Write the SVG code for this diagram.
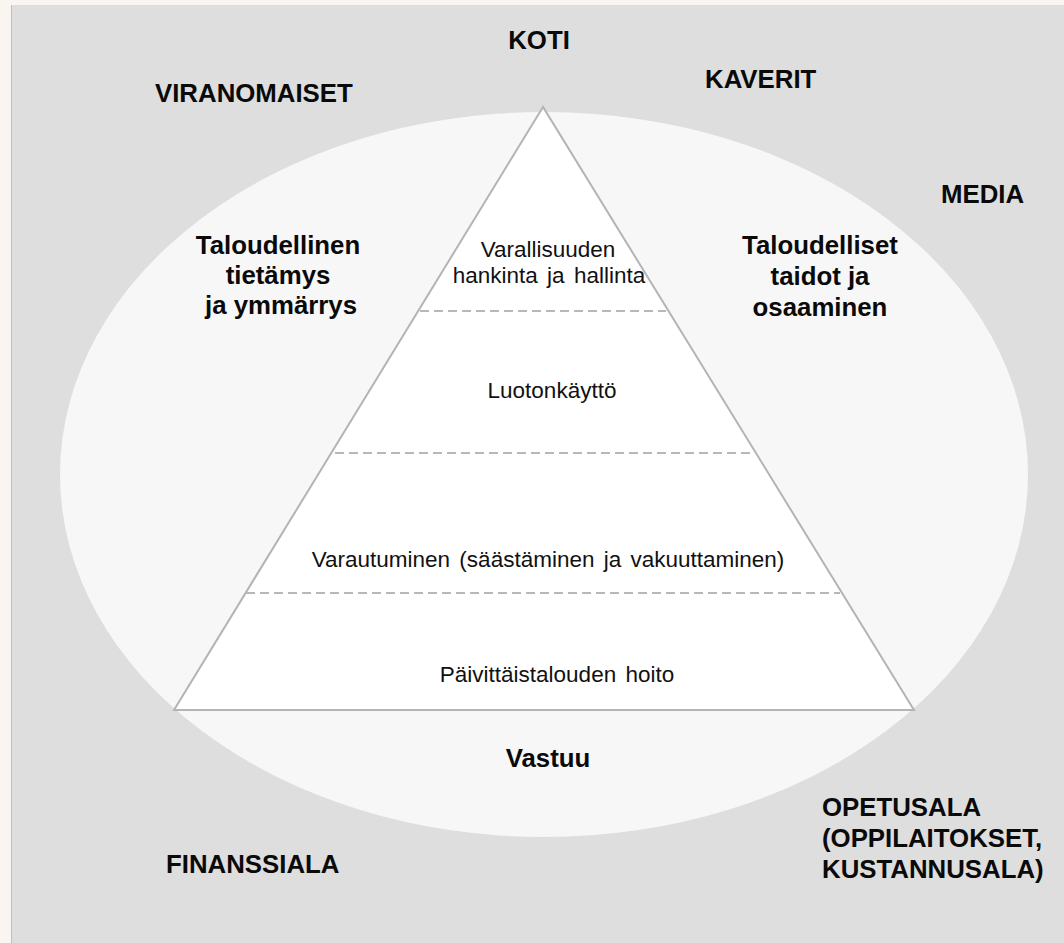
<svg xmlns="http://www.w3.org/2000/svg" width="1064" height="943" viewBox="0 0 1064 943">
<style>
.b{font-family:"Liberation Sans",Arial,sans-serif;font-weight:bold;font-size:25.8px;fill:#0a0a0a}
.r{font-family:"Liberation Sans",Arial,sans-serif;font-size:22.5px;fill:#111}
.m{text-anchor:middle}
.dash{stroke:#b8b8b8;stroke-width:2;stroke-dasharray:9 5;fill:none}
</style>
<rect x="0" y="0" width="1064" height="943" fill="#f9f5f0"/>
<rect x="11" y="5" width="1053" height="938" fill="#dedede"/>
<line x1="11.5" y1="5" x2="11.5" y2="943" stroke="#c2bfbb" stroke-width="1"/>
<g id="ellipse">
<ellipse cx="544" cy="474.5" rx="484" ry="362.5" fill="#f7f7f7"/>
</g>
<g id="pyramid">
<polygon points="543,107 174,710 914,710" fill="#ffffff" stroke="#b4b4b4" stroke-width="2" stroke-linejoin="miter"/>
</g>
<g id="connectors">
<line class="dash" x1="420" y1="311" x2="666" y2="311"/>
<line class="dash" x1="335" y1="453" x2="752" y2="453"/>
<line class="dash" x1="246" y1="593" x2="840" y2="593"/>
</g>
<g id="level-top">
<text class="r m" x="548" y="257">Varallisuuden</text>
<text class="r m" x="549" y="283" word-spacing="3">hankinta ja hallinta</text>
</g>
<g id="level-2">
<text class="r m" x="552" y="398">Luotonkäyttö</text>
</g>
<g id="level-3">
<text class="r m" x="548" y="567" word-spacing="3">Varautuminen (säästäminen ja vakuuttaminen)</text>
</g>
<g id="level-base">
<text class="r m" x="557" y="682" word-spacing="3">Päivittäistalouden hoito</text>
</g>
<g id="knowledge">
<text class="b m" x="278" y="254">Taloudellinen</text>
<text class="b m" x="278" y="284">tietämys</text>
<text class="b m" x="281" y="314">ja ymmärrys</text>
</g>
<g id="skills">
<text class="b m" x="820" y="254">Taloudelliset</text>
<text class="b m" x="820" y="285">taidot ja</text>
<text class="b m" x="820" y="316">osaaminen</text>
</g>
<g id="responsibility">
<text class="b m" x="548" y="767">Vastuu</text>
</g>
<g id="koti"><text class="b m" x="539" y="49">KOTI</text></g>
<g id="viranomaiset"><text class="b" x="155" y="102">VIRANOMAISET</text></g>
<g id="kaverit"><text class="b" x="705" y="88">KAVERIT</text></g>
<g id="media"><text class="b" x="941" y="203">MEDIA</text></g>
<g id="finanssiala"><text class="b" x="166" y="873">FINANSSIALA</text></g>
<g id="opetusala">
<text class="b" x="822" y="816">OPETUSALA</text>
<text class="b" x="822" y="847">(OPPILAITOKSET,</text>
<text class="b" x="822" y="878">KUSTANNUSALA)</text>
</g>
</svg>
